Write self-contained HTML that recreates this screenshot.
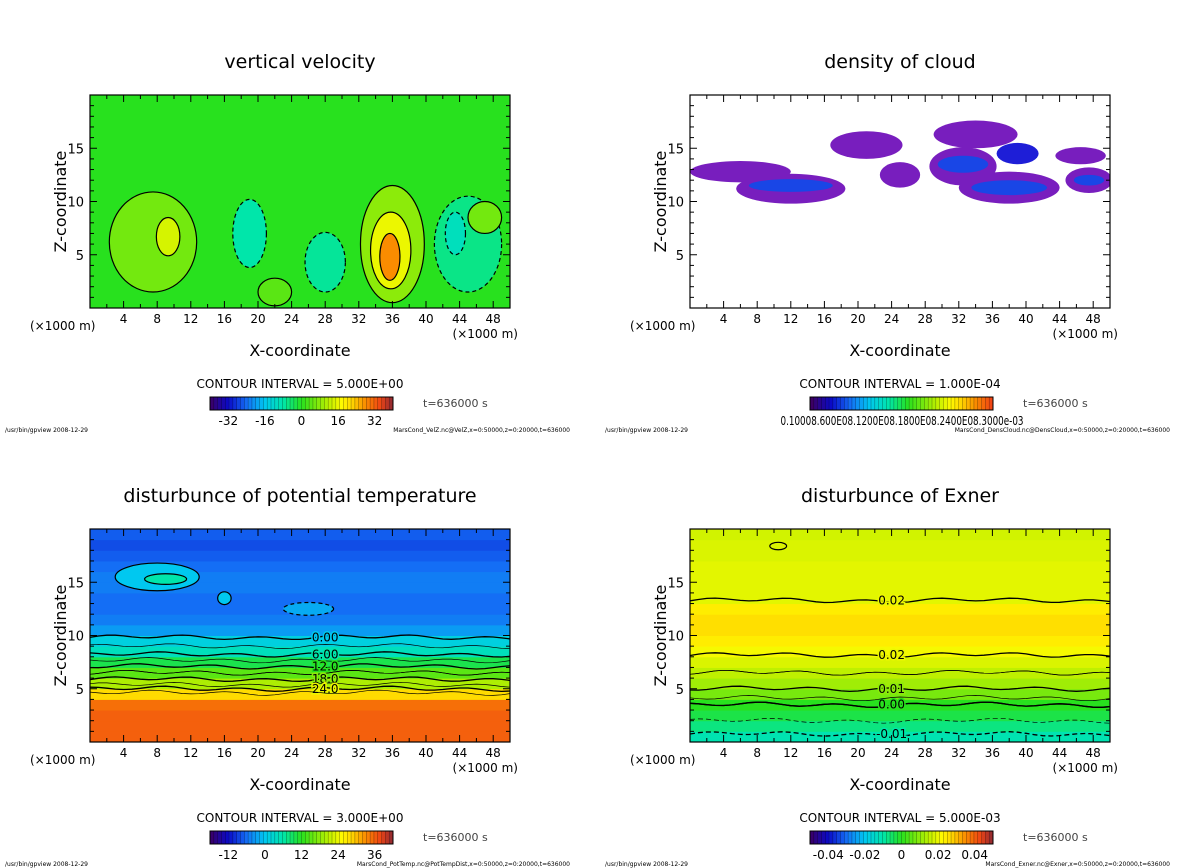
<!DOCTYPE html>
<html><head><meta charset="utf-8">
<style>
body{margin:0;background:#fff;}
svg{display:block;font-family:"DejaVu Sans","Liberation Sans",sans-serif;}
</style></head>
<body>
<svg id="fig" width="1200" height="868" viewBox="0 0 1200 868" xmlns="http://www.w3.org/2000/svg"></svg>
<script>
// ---- data ----
const xTicks = [4,8,12,16,20,24,28,32,36,40,44,48];
const zTicks = [5,10,15];
// vertical profiles (value at z = 0.5 .. 19.5 km)
const velProfile = [0,0,0,0,0,0,0,0,0,0,0,0,0,0,0,0,0,0,0,0];
const ptProfile = [36,36,36,35,28,20,15,10,4.5,1.5,-3,-5,-6,-6,-5,-5,-6,-7,-8,-7];
const exProfile = [-0.011,-0.007,-0.003,0.0,0.008,0.012,0.015,0.018,0.021,0.024,0.026,0.026,0.024,0.019,0.019,0.019,0.019,0.018,0.018,0.017];
const denProfile = [null,null,null,null,null,null,null,null,null,null,null,null,null,null,null,null,null,null,null,null];
// blobs: [cx(km), cz(km), rx(km), rz(km), value]
const velBlobs = [
 [7.5,6.2,5.2,4.7,6],[9.3,6.7,1.4,1.8,14],
 [36,6,3.8,5.5,8],[35.8,5.4,2.4,3.6,16],[35.7,4.8,1.2,2.2,28],
 [19,7,2,3.2,-8],[28,4.3,2.4,2.8,-7],[45,6,4,4.5,-6],[43.5,7,1.2,2,-10],
 [47,8.5,2,1.5,6],[22,1.5,2,1.3,4]
];
const denBlobs = [
 [6,12.8,6,1,0.2e-4],[12,11.2,6.5,1.4,0.2e-4],[12,11.5,5,0.6,1.5e-4],
 [21,15.3,4.3,1.3,0.2e-4],[25,12.5,2.4,1.2,0.2e-4],
 [34,16.3,5,1.3,0.2e-4],[32.5,13.3,4,1.8,0.2e-4],[32.5,13.5,3,0.8,1.5e-4],
 [38,11.3,6,1.5,0.2e-4],[38,11.3,4.5,0.7,1.5e-4],
 [47.5,12,2.8,1.2,0.2e-4],[47.5,12,1.8,0.5,1.5e-4],[46.5,14.3,3,0.8,0.2e-4],[39,14.5,2.5,1,1.2e-4]
];
const ptBlobs = [
 [8,15.5,5,1.3,0],[9,15.3,2.5,0.5,6],[16,13.5,0.8,0.6,0],[26,12.5,3,0.6,-2]
];
const exBlobs = [[10.5,18.4,1,0.35,0.018]];
const velCbar = [-32,-16,0,16,32];
const ptCbar = [-12,0,12,24,36];
const exCbar = [-0.04,-0.02,0,0.02,0.04];
const exLevels = [-0.01,-0.005,0.0,0.005,0.01,0.015,0.02];
const ptLevels = [0,3,6,9,12,15,18,21,24,27];

// ---- helpers ----
const NS="http://www.w3.org/2000/svg";
const svg=document.getElementById('fig');
function el(tag,attrs,parent){const e=document.createElementNS(NS,tag);for(const k in attrs)e.setAttribute(k,attrs[k]);(parent||svg).appendChild(e);return e;}
const stops=[[0,[60,0,100]],[0.1,[10,10,200]],[0.2,[20,110,245]],[0.3,[0,200,240]],[0.4,[0,230,170]],[0.5,[40,225,30]],[0.65,[190,240,0]],[0.72,[255,250,0]],[0.78,[255,210,0]],[0.85,[250,140,0]],[0.93,[240,70,20]],[1,[140,40,50]]];
function cmap(t){t=Math.max(0,Math.min(1,t));for(let i=1;i<stops.length;i++){if(t<=stops[i][0]){const a=stops[i-1],b=stops[i];const f=(t-a[0])/(b[0]-a[0]);const c=a[1].map((v,j)=>Math.round(v+(b[1][j]-v)*f));return `rgb(${c})`;}}return 'rgb(140,40,50)';}
function denColor(v){const t=v/1e-3;if(t<0.05)return 'rgb(120,30,190)';if(t<0.1)return 'rgb(70,20,200)';return t<0.13?'rgb(30,30,215)':'rgb(25,70,230)';}

const panels=[
 {ox:90,oy:95,title:'vertical velocity',min:-40,max:40,prof:velProfile,blobs:velBlobs,cbar:velCbar,ci:'CONTOUR INTERVAL = 5.000E+00',foot:'MarsCond_VelZ.nc@VelZ,x=0:50000,z=0:20000,t=636000',name:'vertical-velocity'},
 {ox:690,oy:95,title:'density of cloud',min:0,max:1e-3,prof:denProfile,blobs:denBlobs,cbar:null,ci:'CONTOUR INTERVAL = 1.000E-04',foot:'MarsCond_DensCloud.nc@DensCloud,x=0:50000,z=0:20000,t=636000',name:'density-of-cloud',den:true},
 {ox:90,oy:529,title:'disturbunce of potential temperature',min:-18,max:42,prof:ptProfile,blobs:ptBlobs,cbar:ptCbar,ci:'CONTOUR INTERVAL = 3.000E+00',foot:'MarsCond_PotTemp.nc@PotTempDist,x=0:50000,z=0:20000,t=636000',name:'potential-temperature',levels:ptLevels},
 {ox:690,oy:529,title:'disturbunce of Exner',min:-0.05,max:0.05,prof:exProfile,blobs:exBlobs,cbar:exCbar,ci:'CONTOUR INTERVAL = 5.000E-03',foot:'MarsCond_Exner.nc@Exner,x=0:50000,z=0:20000,t=636000',name:'exner',levels:exLevels}
];
const W=420,H=213;
panels.forEach((p,pi)=>{
 const g=el('g',{});
 
 
 const X=x=>p.ox+x/50*W, Z=z=>p.oy+H-z/20*H;
 const col=v=>p.den?denColor(v):cmap((v-p.min)/(p.max-p.min));
 const clipId='clip'+pi;
 const cp=el('clipPath',{id:clipId},g);el('rect',{x:p.ox,y:p.oy,width:W,height:H},cp);
 const plot=el('g',{'clip-path':`url(#${clipId})`},g);
 
 
 el('rect',{x:p.ox,y:p.oy,width:W,height:H,fill:'#fff'},plot);
 p.prof.forEach((v,i)=>{
  if(v===null)return;
  const r=el('rect',{x:p.ox,y:Z(i+1)-0.5,width:W,height:H/20+1,fill:col(v)},plot);
  
  
 });
 p.blobs.forEach(b=>{
  const e=el('ellipse',{cx:X(b[0]),cy:Z(b[1]),rx:b[2]/50*W,ry:b[3]/20*H,fill:col(b[4]),stroke:p.den?'none':'#000','stroke-width':p.den?0:1.2,'stroke-dasharray':(!p.den&&b[4]<0)?'4 3':'none'},plot);
  
  
 });
 if(p.levels){
  p.levels.forEach((lv,li)=>{
   for(let i=0;i<p.prof.length-1;i++){
    const a=p.prof[i],b=p.prof[i+1];
    if(!((a-lv)*(b-lv)<=0&&a!==b))continue;
    const zc=i+0.5+(lv-a)/(b-a);
    let d='';
    for(let k=0;k<=50;k++){const z=zc+0.15*Math.sin(k*0.7+li)+0.1*Math.sin(k*0.23);d+=(k?'L':'M')+X(k).toFixed(1)+','+Z(z).toFixed(1);}
    const major=p.name==='exner'?(lv*200)%2===0:(lv%6===0);
    const path=el('path',{d:d,fill:'none',stroke:'#000','stroke-width':major?1.3:0.7,'stroke-dasharray':lv<0?'5 3':'none'},plot);
    
    
    if(major){
     const lab=el('text',{x:X(p.name==='exner'?24:28),y:Z(zc)+4,'font-size':12,'text-anchor':'middle',fill:'#000',stroke:col(lv),'stroke-width':3,'paint-order':'stroke'},plot);
     lab.textContent=p.name==='exner'?lv.toFixed(2):(lv<10?lv.toFixed(2):lv.toFixed(1));
     
     
    }
   }
  });
 }
 el('rect',{x:p.ox,y:p.oy,width:W,height:H,fill:'none',stroke:'#000','stroke-width':1.2},g);
 // ticks
 for(let x=2;x<50;x+=2){const l=x%4===0?7:4;el('line',{x1:X(x),y1:p.oy+H,x2:X(x),y2:p.oy+H-l,stroke:'#000'},g);el('line',{x1:X(x),y1:p.oy,x2:X(x),y2:p.oy+l,stroke:'#000'},g);}
 for(let z=1;z<20;z++){const l=z%5===0?7:4;el('line',{x1:p.ox,y1:Z(z),x2:p.ox+l,y2:Z(z),stroke:'#000'},g);el('line',{x1:p.ox+W,y1:Z(z),x2:p.ox+W-l,y2:Z(z),stroke:'#000'},g);}
 xTicks.forEach(x=>{const t=el('text',{x:X(x),y:p.oy+H+15,'font-size':12,'text-anchor':'middle'},g);t.textContent=x;});
 zTicks.forEach(z=>{const t=el('text',{x:p.ox-6,y:Z(z)+5,'font-size':13,'text-anchor':'end'},g);t.textContent=z;});
 const t1=el('text',{x:p.ox-60,y:p.oy+H+22,'font-size':12},g);t1.textContent='(×1000 m)';
 const t2=el('text',{x:p.ox+W+8,y:p.oy+H+30,'font-size':12,'text-anchor':'end'},g);t2.textContent='(×1000 m)';
 const xt=el('text',{x:p.ox+W/2,y:p.oy+H+48,'font-size':16,'text-anchor':'middle'},g);xt.textContent='X-coordinate';
 const yt=el('text',{x:0,y:0,'font-size':16,'text-anchor':'middle',transform:`translate(${p.ox-24},${p.oy+H/2}) rotate(-90)`},g);yt.textContent='Z-coordinate';
 const tt=el('text',{x:p.ox+210,y:p.oy-27,'font-size':19,'text-anchor':'middle'},g);tt.textContent=p.title;
 const ci=el('text',{x:p.ox+210,y:p.oy+H+80,'font-size':12,'text-anchor':'middle'},g);ci.textContent=p.ci;
 // colorbar
 const cbx=p.ox+120,cby=p.oy+H+89,cbw=183,cbh=13,n=48;
 for(let i=0;i<n;i++){const c=p.den?cmap(i/n*0.95):cmap((i+0.5)/n);
  const r=el('rect',{x:cbx+i*cbw/n,y:cby,width:cbw/n+0.3,height:cbh,fill:c},g);
  el('line',{x1:cbx+i*cbw/n,y1:cby,x2:cbx+i*cbw/n,y2:cby+cbh,stroke:'#000','stroke-width':0.4,opacity:0.6},g);}
 el('rect',{x:cbx,y:cby,width:cbw,height:cbh,fill:'none',stroke:'#000'},g);
 if(p.cbar){p.cbar.forEach(v=>{const t=el('text',{x:cbx+(v-p.min)/(p.max-p.min)*cbw,y:cby+28,'font-size':12,'text-anchor':'middle'},g);t.textContent=(p.name==='exner'&&v!==0)?v.toFixed(2):v;});}
 else{const t=el('text',{x:cbx+92,y:cby+28,'font-size':12,'text-anchor':'middle','textLength':243,'lengthAdjust':'spacingAndGlyphs'},g);t.textContent='0.10008.600E08.1200E08.1800E08.2400E08.3000e-03';}
 const ts=el('text',{x:p.ox+333,y:cby+10,'font-size':11,fill:'#444'},g);ts.textContent='t=636000 s';
 const f1=el('text',{x:p.ox-85,y:p.oy+H+124,'font-size':6},g);f1.textContent='/usr/bin/gpview   2008-12-29';
 const f2=el('text',{x:p.ox+480,y:p.oy+H+124,'font-size':6,'text-anchor':'end'},g);f2.textContent=p.foot;
});
</script>
</body></html>
